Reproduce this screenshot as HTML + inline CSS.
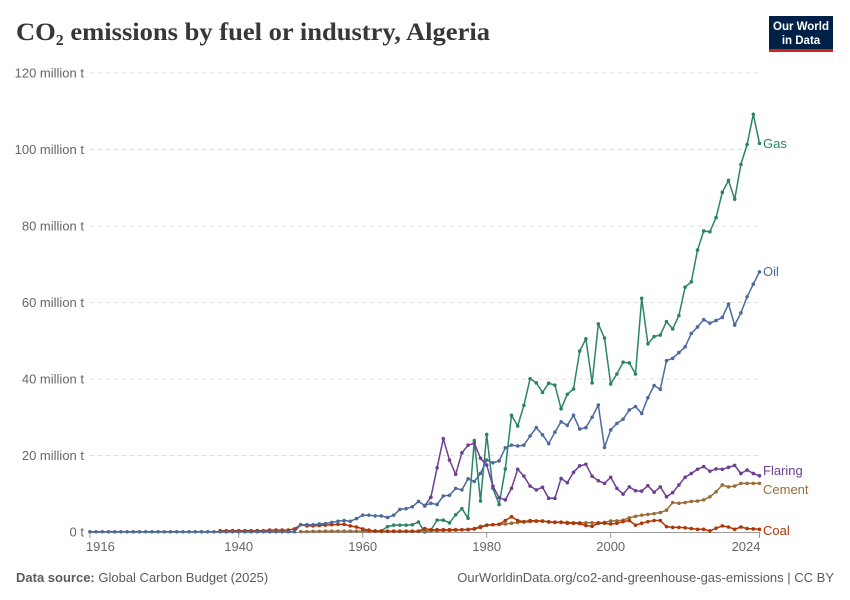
<!DOCTYPE html>
<html><head><meta charset="utf-8"><style>
body{margin:0;background:#fff;}
#wrap{position:relative;width:850px;height:600px;overflow:hidden;font-family:"Liberation Sans",sans-serif;}
</style></head><body>
<div id="wrap">
<svg id="chart" width="850" height="600" xmlns="http://www.w3.org/2000/svg">
<text x="16" y="40" font-family="Liberation Serif,serif" font-size="25" font-weight="bold" fill="#373737" textLength="474" lengthAdjust="spacingAndGlyphs">CO₂ emissions by fuel or industry, Algeria</text>
<g>
<rect x="769" y="16" width="64" height="33" fill="#002147"/>
<rect x="769" y="49" width="64" height="3" fill="#ce261e"/>
<text x="801" y="30" font-size="11.5" font-weight="bold" fill="#fff" text-anchor="middle" textLength="56" lengthAdjust="spacingAndGlyphs">Our World</text>
<text x="801" y="44" font-size="11.5" font-weight="bold" fill="#fff" text-anchor="middle">in Data</text>
</g>
<g id="grid"></g>
<g id="series"></g>
<text x="16" y="582" font-size="13" fill="#5b5b5b"><tspan font-weight="bold">Data source:</tspan> Global Carbon Budget (2025)</text>
<text x="834" y="582" font-size="13" fill="#5b5b5b" text-anchor="end">OurWorldinData.org/co2-and-greenhouse-gas-emissions | CC BY</text>
</svg>
</div>
<script>
const yTicks=[0,20,40,60,80,100,120];
const yTickLabels=["0 t","20 million t","40 million t","60 million t","80 million t","100 million t","120 million t"];
const xTicks=[1916,1940,1960,1980,2000,2024];
const gasStart=1960;
const gas=[0.3,0.3,0.3,0.3,1.4,1.8,1.8,1.8,1.9,2.6,0,0.5,3.1,3.1,2.4,4.5,6.1,3.6,23.9,8.1,25.5,11.4,7.2,16.5,30.5,27.7,33.1,40.1,39,36.5,38.9,38.4,32.2,36,37.4,47.3,50.5,39,54.4,50.7,38.7,41.3,44.4,44.2,41.3,61.1,49.2,51.1,51.5,55,53.1,56.6,64,65.4,73.7,78.7,78.5,82.2,88.8,91.9,87,96.1,101.3,109.2,101.6];
const oilStart=1916;
const oilEarly=[0.05,0.05,0.05,0.05,0.05,0.05,0.05,0.05,0.05,0.05,0.05,0.05,0.05,0.05,0.05,0.05,0.05,0.05,0.05,0.05,0.05,0.05,0.05,0.05,0.05,0.05,0.05,0.05,0.05,0.05,0.05,0.05,0.05,0.05];
const oilLate=[1.9,1.9,1.9,2.1,2.2,2.5,2.8,3.0,2.8,3.5,4.4,4.4,4.2,4.2,3.8,4.4,5.9,6.1,6.6,8,6.9,7.5,7.2,9.4,9.6,11.4,11,13.9,13.2,15.3,18.8,18.1,18.6,22,22.7,22.5,22.7,25.1,27.3,25.4,23.1,26.1,28.8,27.9,30.5,26.9,27.3,30,33.2,22.1,26.7,28.4,29.5,31.9,32.8,31,35.1,38.3,37.3,44.8,45.4,46.9,48.4,51.9,53.6,55.5,54.6,55.3,56.1,59.6,54.1,57.3,61.5,64.8,68];
const flaringStart=1970;
const flaring=[6.8,9.1,16.8,24.4,18.8,15.1,20.7,22.7,23.2,19.3,17.5,12,9,8.4,11.4,16.4,14.6,12,11,11.7,8.8,8.8,14,12.9,15.6,17.3,17.7,14.6,13.4,12.7,14.3,11.4,9.9,11.8,10.8,10.7,12.1,10.4,11.8,9.2,10.3,12.3,14.3,15.3,16.4,17.1,15.9,16.5,16.4,16.9,17.4,15.3,16.2,15.3,14.7];
const cementStart=1950;
const cement=[0.1,0.1,0.15,0.15,0.2,0.2,0.2,0.2,0.2,0.2,0.2,0.2,0.2,0.2,0.2,0.2,0.2,0.2,0.2,0.2,0.3,0.3,0.3,0.4,0.4,0.5,0.6,0.7,0.9,1.5,1.8,1.9,2.0,2.1,2.3,2.5,2.6,2.7,2.8,2.8,2.7,2.6,2.6,2.5,2.4,2.4,2.4,2.4,2.4,2.5,2.9,2.9,3.1,3.7,4.1,4.4,4.6,4.8,5.1,5.7,7.7,7.5,7.7,8.0,8.1,8.4,9.2,10.5,12.3,11.8,12.0,12.7,12.7,12.7,12.7];
const coalStart=1937;
const coal=[0.35,0.35,0.35,0.35,0.35,0.35,0.35,0.35,0.5,0.5,0.5,0.5,0.8,1.9,1.6,1.6,1.7,1.8,1.9,2.0,2.0,1.6,1.3,0.8,0.5,0.2,0.2,0.2,0.2,0.2,0.2,0.2,0.2,0.9,0.6,0.6,0.6,0.6,0.6,0.6,0.6,0.8,1.2,1.8,1.9,2.0,3.0,4.0,3.0,2.7,3.0,2.9,2.9,2.6,2.5,2.5,2.3,2.3,2.2,1.7,1.5,2.3,2.3,2.1,2.3,2.7,3.0,1.8,2.3,2.7,3.0,3.0,1.4,1.2,1.2,1.1,0.9,0.7,0.7,0.3,1.0,1.6,1.3,0.7,1.3,0.9,0.8,0.7];
const oil=oilEarly.concat(oilLate);

const NS="http://www.w3.org/2000/svg";
function xs(year){return 362.7+(year-1960)*6.2;}
function ys(v){return 532-v*3.825;}
const grid=document.getElementById('grid');
const series=document.getElementById('series');
function mk(tag,attrs,parent){const e=document.createElementNS(NS,tag);for(const k in attrs)e.setAttribute(k,attrs[k]);parent.appendChild(e);return e;}

yTicks.forEach((t,i)=>{
  if(t>0){
    const l=mk('line',{x1:90,x2:760,y1:ys(t),y2:ys(t),stroke:'#dddddd','stroke-dasharray':'4,4'},grid);
    
    
  }
  const tx=mk('text',{x:84,y:ys(t)+4.5,'font-size':13,fill:'#666','text-anchor':'end'},grid);
  tx.textContent=yTickLabels[i];
  
  
});
const ax=mk('line',{x1:90,x2:760,y1:532.5,y2:532.5,stroke:'#999'},grid);


xTicks.forEach((yr,i)=>{
  const tk=mk('line',{x1:xs(yr),x2:xs(yr),y1:533,y2:538,stroke:'#999'},grid);
  
  
  let lx=xs(yr),anchor='middle';
  if(i===0){lx=xs(yr)-4;anchor='start';}
  if(i===xTicks.length-1){lx=xs(yr)+1;anchor='end';}
  const tx=mk('text',{x:lx,y:551,'font-size':13,fill:'#666','text-anchor':anchor},grid);
  tx.textContent=yr;
  
  
});

function draw(name,start,vals,color,label,labelY){
  const g=mk('g',{},series);
  
  
  const pts=vals.map((v,i)=>xs(start+i).toFixed(1)+','+ys(v).toFixed(1)).join(' ');
  const pl=mk('polyline',{points:pts,fill:'none',stroke:color,'stroke-width':1.5,'stroke-linejoin':'round'},g);
  
  
  vals.forEach((v,i)=>{
    const c=mk('circle',{cx:xs(start+i),cy:ys(v),r:1.8,fill:color},g);
    
    
  });
  const t=mk('text',{x:763,y:labelY,'font-size':13,fill:color},g);
  t.textContent=label;
  
  
}
draw('gas',gasStart,gas,'#2c8465','Gas',148);
draw('flaring',flaringStart,flaring,'#6d3e91','Flaring',475);
draw('cement',cementStart,cement,'#996d39','Cement',494);
draw('coal',coalStart,coal,'#b13507','Coal',535);
draw('oil',oilStart,oil,'#4c6a9c','Oil',276);
</script>
</body></html>
